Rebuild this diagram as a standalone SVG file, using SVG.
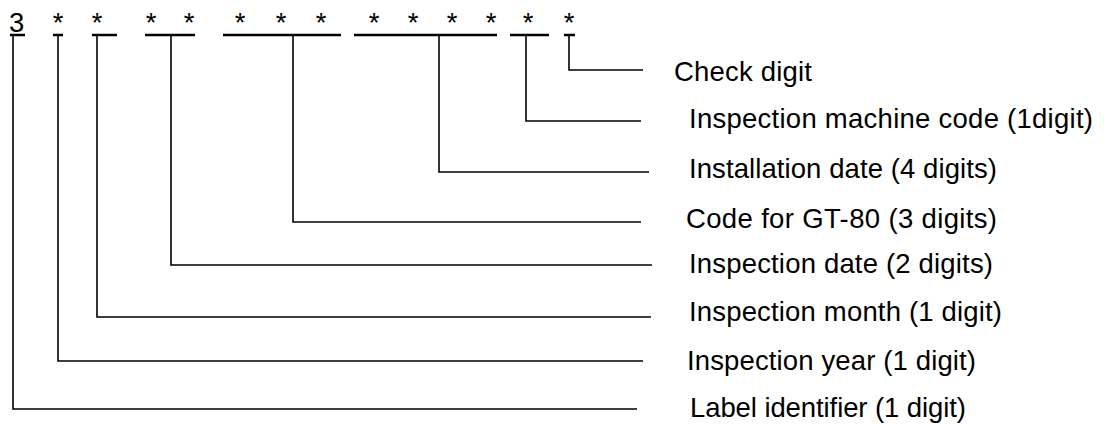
<svg xmlns="http://www.w3.org/2000/svg" width="1104" height="425" viewBox="0 0 1104 425">
  <style>
    text { font-family: "Liberation Sans", Arial, sans-serif; font-size: 27.5px; fill: #000; }
    .mark { text-anchor: middle; }
    .ul { stroke: #000; stroke-width: 2.5; fill: none; }
    .link { stroke: #000; stroke-width: 1.6; fill: none; }
  </style>
  <rect width="1104" height="425" fill="#fff"/>

  <!-- code digits with their underlines -->
  <g id="d-label">
    <text x="9" y="32">3</text>
    <line class="ul" x1="10" y1="35" x2="25" y2="35"/>
  </g>
  <g id="d-year">
    <text class="mark" x="58" y="32">*</text>
    <line class="ul" x1="53" y1="35" x2="63" y2="35"/>
  </g>
  <g id="d-month">
    <text class="mark" x="97" y="32">*</text>
    <line class="ul" x1="92" y1="35" x2="117" y2="35"/>
  </g>
  <g id="d-date">
    <text class="mark" x="151" y="32">*</text>
    <text class="mark" x="189" y="32">*</text>
    <line class="ul" x1="145" y1="35" x2="195" y2="35"/>
  </g>
  <g id="d-gt80">
    <text class="mark" x="240" y="32">*</text>
    <text class="mark" x="281" y="32">*</text>
    <text class="mark" x="321" y="32">*</text>
    <line class="ul" x1="223" y1="35" x2="341" y2="35"/>
  </g>
  <g id="d-install">
    <text class="mark" x="374" y="32">*</text>
    <text class="mark" x="413" y="32">*</text>
    <text class="mark" x="452" y="32">*</text>
    <text class="mark" x="491" y="32">*</text>
    <line class="ul" x1="354" y1="35" x2="497" y2="35"/>
  </g>
  <g id="d-machine">
    <text class="mark" x="528" y="32">*</text>
    <line class="ul" x1="510" y1="35" x2="549" y2="35"/>
  </g>
  <g id="d-check">
    <text class="mark" x="569" y="32">*</text>
    <line class="ul" x1="564" y1="35" x2="575" y2="35"/>
  </g>

  <!-- leader lines from each digit group to its description -->
  <g id="connectors">
    <polyline class="link" points="569,36 569,70 643,70"/>
    <polyline class="link" points="526,36 526,121 641,121"/>
    <polyline class="link" points="439,36 439,172 649,172"/>
    <polyline class="link" points="293,36 293,222 641,222"/>
    <polyline class="link" points="171,36 171,265 652,265"/>
    <polyline class="link" points="97,36 97,317 651,317"/>
    <polyline class="link" points="58,36 58,361 643,361"/>
    <polyline class="link" points="13,36 13,409 637,409"/>
  </g>

  <!-- field descriptions -->
  <g id="t-check"><text x="674" y="81" textLength="138">Check digit</text></g>
  <g id="t-machine"><text x="689" y="127.5" textLength="404">Inspection machine code (1digit)</text></g>
  <g id="t-install"><text x="689" y="177.5" textLength="308">Installation date (4 digits)</text></g>
  <g id="t-gt80"><text x="686" y="228" textLength="311">Code for GT-80 (3 digits)</text></g>
  <g id="t-date"><text x="689" y="272.5" textLength="304">Inspection date (2 digits)</text></g>
  <g id="t-month"><text x="689" y="320.5" textLength="313">Inspection month (1 digit)</text></g>
  <g id="t-year"><text x="687" y="370" textLength="289">Inspection year (1 digit)</text></g>
  <g id="t-label"><text x="690" y="416.5" textLength="276">Label identifier (1 digit)</text></g>
</svg>
